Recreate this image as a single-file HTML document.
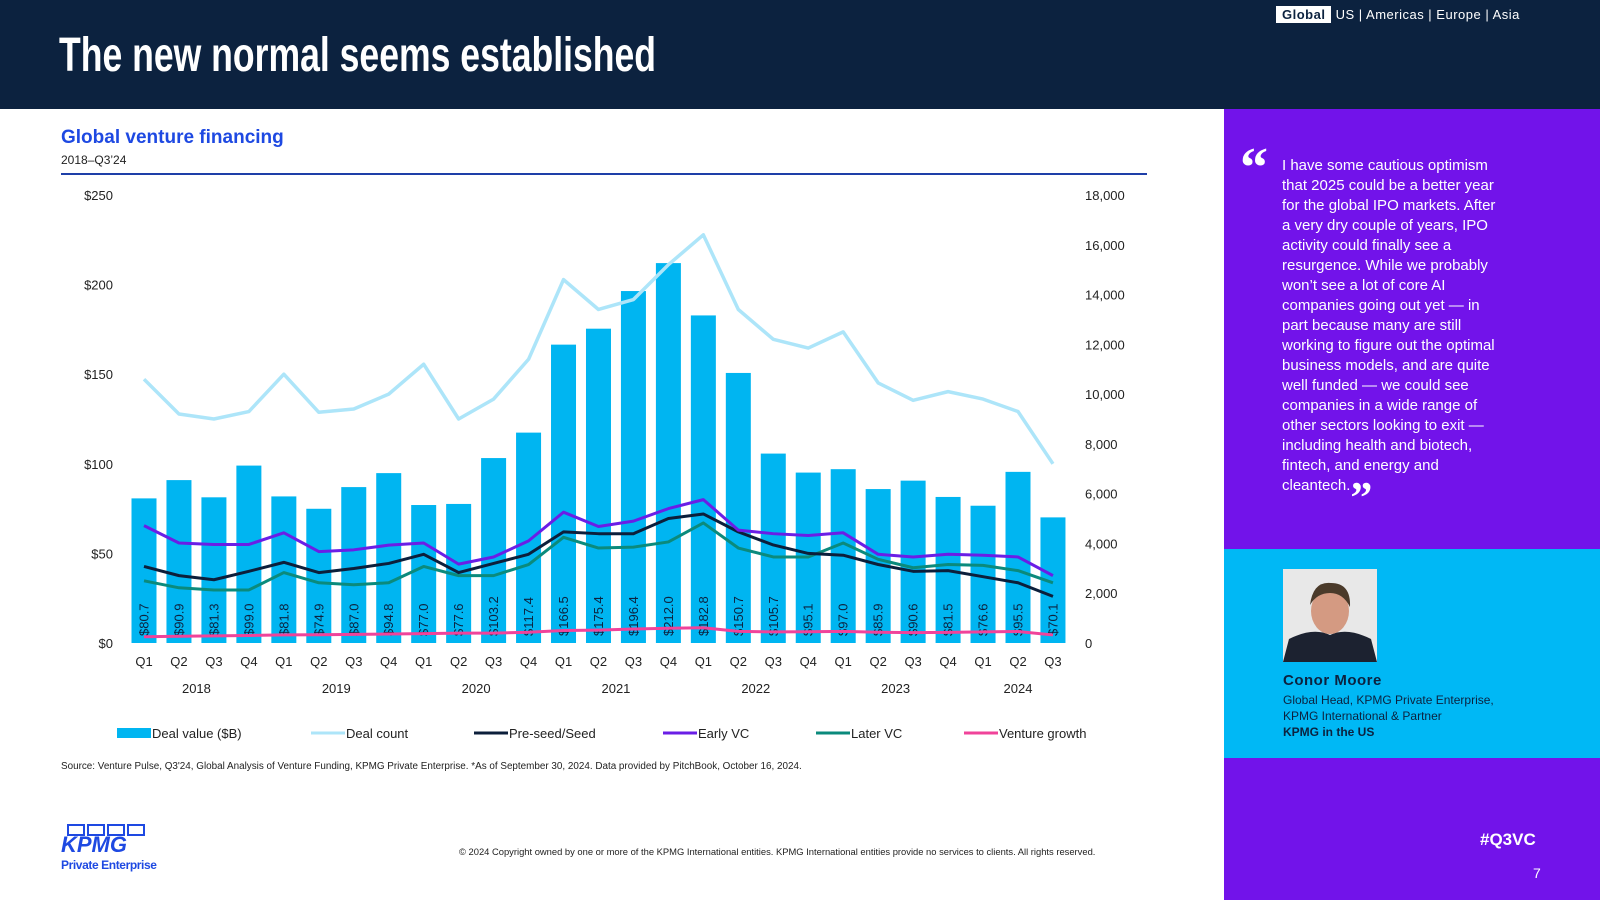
<!DOCTYPE html>
<html><head><meta charset="utf-8"><style>
*{margin:0;padding:0;box-sizing:border-box}
body{width:1600px;height:900px;overflow:hidden;background:#fff;font-family:"Liberation Sans",sans-serif;position:relative}
.abs{position:absolute}
#hdr{left:0;top:0;width:1600px;height:109px;background:#0c223f}
#side{left:1224px;top:109px;width:376px;height:791px;background:#7213ea}
#cyan{left:1224px;top:549px;width:376px;height:209px;background:#00b8f5}
.q{color:#fff;font-size:15px;line-height:20px;left:1282px;top:156px;width:300px}
</style></head><body>
<div id="hdr" class="abs"></div>
<svg class="abs" style="left:0;top:0" width="700" height="109"><text x="59" y="71" fill="#fff" font-family="Liberation Sans Narrow, Liberation Sans, sans-serif" font-weight="bold" font-size="48" textLength="597" lengthAdjust="spacingAndGlyphs">The new normal seems established</text></svg>
<div class="abs" style="left:1276px;top:7px;font-size:13px;color:#fff;letter-spacing:0.5px"><span style="border:1px solid #fff;background:#fff;color:#0c223f;font-weight:bold;padding:0 5px">Global</span> <span>US | Americas | Europe | Asia</span></div>
<div id="side" class="abs"></div>
<div id="cyan" class="abs"></div>
<div class="abs" style="left:1240px;top:138px;color:#fff;font-size:56px;font-weight:bold;font-family:'Liberation Serif',serif;line-height:60px">“</div>
<div class="abs q">I have some cautious optimism<br>that 2025 could be a better year<br>for the global IPO markets. After<br>a very dry couple of years, IPO<br>activity could finally see a<br>resurgence. While we probably<br>won’t see a lot of core AI<br>companies going out yet — in<br>part because many are still<br>working to figure out the optimal<br>business models, and are quite<br>well funded — we could see<br>companies in a wide range of<br>other sectors looking to exit —<br>including health and biotech,<br>fintech, and energy and<br>cleantech.<span style="font-size:44px;font-weight:bold;font-family:'Liberation Serif',serif;line-height:10px;vertical-align:-22px">”</span></div>
<svg class="abs" style="left:1283px;top:569px" width="94" height="93"><rect width="94" height="93" fill="#e8e8e8"/><path d="M0 93 L6 70 Q30 58 47 66 Q64 58 88 70 L94 93Z" fill="#1c2230"/><ellipse cx="47" cy="42" rx="19" ry="23" fill="#d49a82"/><path d="M27 36 Q30 12 48 14 Q68 14 67 38 Q60 24 47 24 Q34 24 27 36Z" fill="#4a3a2a"/></svg>
<div class="abs" style="left:1283px;top:672px;color:#0c223f;font-size:15px;font-weight:bold;letter-spacing:0.5px">Conor Moore</div>
<div class="abs" style="left:1283px;top:692px;color:#0c223f;font-size:12px;line-height:16px">Global Head, KPMG Private Enterprise,<br>KPMG International &amp; Partner<br><b>KPMG in the US</b></div>
<div class="abs" style="left:1480px;top:830px;color:#fff;font-size:17px;font-weight:bold">#Q3VC</div>
<div class="abs" style="left:1533px;top:865px;color:#fff;font-size:14px">7</div>
<div class="abs" style="left:61px;top:127px;color:#1e49e2;font-size:19px;font-weight:bold">Global venture financing</div>
<div class="abs" style="left:61px;top:153px;color:#222;font-size:12px">2018–Q3’24</div>
<div class="abs" style="left:61px;top:173px;width:1086px;height:2px;background:#1e3fa8"></div>
<div class="abs" style="left:61px;top:761px;font-size:9.9px;color:#222;white-space:nowrap">Source: Venture Pulse, Q3'24, Global Analysis of Venture Funding, KPMG Private Enterprise. *As of September 30, 2024. Data provided by PitchBook, October 16, 2024.</div>
<div class="abs" style="left:459px;top:846px;font-size:9.4px;color:#222;white-space:nowrap">© 2024 Copyright owned by one or more of the KPMG International entities. KPMG International entities provide no services to clients. All rights reserved.</div>
<div class="abs" style="left:61px;top:824px;width:110px;white-space:nowrap">
<div style="display:flex;gap:2px;margin-left:6px"><div style="width:18px;height:12px;border:2px solid #1e49e2"></div><div style="width:18px;height:12px;border:2px solid #1e49e2"></div><div style="width:18px;height:12px;border:2px solid #1e49e2"></div><div style="width:18px;height:12px;border:2px solid #1e49e2"></div></div>
<div style="color:#1e49e2;font-weight:bold;font-style:italic;font-size:22px;line-height:18px">KPMG</div>
<div style="color:#1e49e2;font-weight:bold;font-size:12px;margin-top:4px;letter-spacing:-0.4px">Private Enterprise</div></div>
<svg id="chart" class="abs" style="left:0;top:0" width="1200" height="760"></svg>
<script>
const quarters=["Q1","Q2","Q3","Q4","Q1","Q2","Q3","Q4","Q1","Q2","Q3","Q4","Q1","Q2","Q3","Q4","Q1","Q2","Q3","Q4","Q1","Q2","Q3","Q4","Q1","Q2","Q3"];
const years=["2018","2019","2020","2021","2022","2023","2024"];
const dealValue=[80.7,90.9,81.3,99.0,81.8,74.9,87.0,94.8,77.0,77.6,103.2,117.4,166.5,175.4,196.4,212.0,182.8,150.7,105.7,95.1,97.0,85.9,90.6,81.5,76.6,95.5,70.1];
const dealCount=[10600,9200,9000,9300,10800,9270,9400,10000,11200,9000,9800,11400,14600,13400,13800,15200,16400,13400,12200,11850,12500,10450,9750,10100,9800,9300,7200];
const preSeed=[42.7,37.6,35.3,40,45,39.3,41.6,44.4,49.5,39.3,44.4,49.5,62,61,61,69.5,72,62,54.7,50,49,43.8,40,40.4,37,33.6,26];
const earlyVC=[65.5,55.8,55,55,61.5,51,52,54.6,55.8,44,48,57,73,65,68,75,80,63,61,60,61.5,49.5,48,49.5,49,48,37.6];
const laterVC=[34.7,30.8,29.6,29.6,39.3,33.6,32.5,33.6,42.7,37.6,37.6,43.8,59,53,53.5,56.4,67,53,48,48,55.8,46.7,42,43.8,43.3,40.4,33.6];
const ventureGrowth=[3.5,3.8,4,4.2,4.5,4.6,4.8,5,5.2,5.5,5.5,6,7,7.2,7.8,8.2,8.5,6.5,6.2,6.3,6.5,6,5.8,5.9,6.2,6.4,4.5];
const leftTicks=[0,50,100,150,200,250];
const rightTicks=[0,2000,4000,6000,8000,10000,12000,14000,16000,18000];
const ns="http://www.w3.org/2000/svg",svg=document.getElementById('chart');
const X=i=>144+i*34.96, YL=v=>643-v*448/250, YR=v=>643-v*448/18000;
function mk(t,a,p){const e=document.createElementNS(ns,t);for(const k in a)e.setAttribute(k,a[k]);(p||svg).appendChild(e);return e;}
leftTicks.forEach(v=>{const t=mk('text',{x:113,y:YL(v)+5,'text-anchor':'end','font-size':13,fill:'#222'});t.textContent='$'+v;

});
rightTicks.forEach(v=>{const t=mk('text',{x:1085,y:YR(v)+5,'font-size':13,fill:'#222'});t.textContent=v.toLocaleString('en-US');

});
dealValue.forEach((v,i)=>{const r=mk('rect',{x:X(i)-12.5,y:YL(v),width:25,height:YL(0)-YL(v),fill:'#00b5f1'});

});
function line(arr,scale,col,w,name){const p=mk('polyline',{points:arr.map((v,i)=>X(i)+','+scale(v)).join(' '),fill:'none',stroke:col,'stroke-width':w,'stroke-linejoin':'round'});

}
line(dealCount,YR,'#ade5f9',3.5,'line-deal-count');
line(laterVC,YL,'#0b8a7c',3,'line-later-vc');
line(preSeed,YL,'#0c1f3b',3,'line-pre-seed');
line(earlyVC,YL,'#6a1ee6',3,'line-early-vc');
dealValue.forEach((v,i)=>{const t=mk('text',{x:0,y:0,'font-size':13,fill:'#0c223f',transform:`translate(${X(i)+4.5},${YL(0)-7}) rotate(-90)`});t.textContent='$'+v.toFixed(1);

});
line(ventureGrowth,YL,'#f0439a',3,'line-venture-growth');
quarters.forEach((q,i)=>{const t=mk('text',{x:X(i),y:666,'text-anchor':'middle','font-size':13,fill:'#222'});t.textContent=q;

});
years.forEach((y,k)=>{const a=k*4,b=Math.min(a+3,quarters.length-1);const t=mk('text',{x:(X(a)+X(b))/2,y:693,'text-anchor':'middle','font-size':13,fill:'#222'});t.textContent=y;

});
const legend=[["Deal value ($B)",'#00b5f1',117,'bar'],["Deal count",'#ade5f9',311,'l'],["Pre-seed/Seed",'#0c1f3b',474,'l'],["Early VC",'#6a1ee6',663,'l'],["Later VC",'#0b8a7c',816,'l'],["Venture growth",'#f0439a',964,'l']];
legend.forEach(([n,c,x,k])=>{const g=mk('g',{});


if(k==='bar')mk('rect',{x:x,y:728,width:34,height:10,fill:c},g);else mk('line',{x1:x,x2:x+34,y1:733,y2:733,stroke:c,'stroke-width':3},g);
const t=mk('text',{x:x+35,y:738,'font-size':13,fill:'#222'},g);t.textContent=n;});
</script>
</body></html>
